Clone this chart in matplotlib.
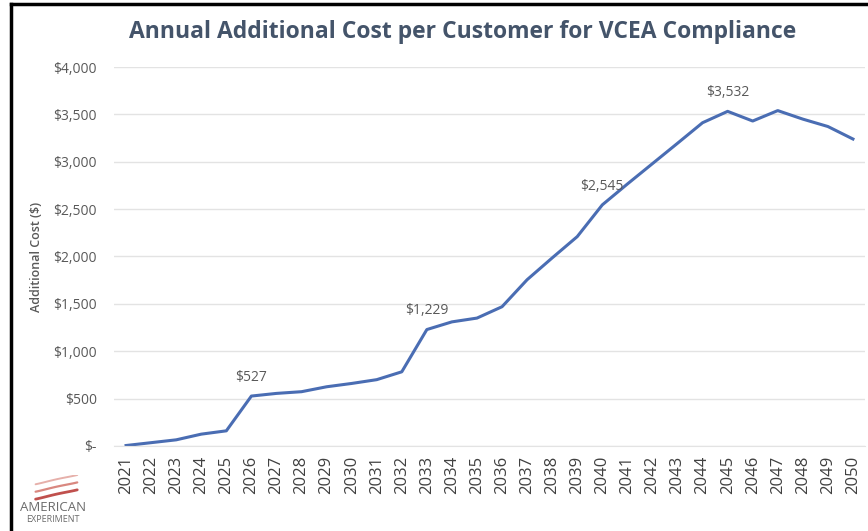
import numpy as np
import matplotlib
matplotlib.use("Agg")
import matplotlib.pyplot as plt
from matplotlib.lines import Line2D

plt.rcParams['font.family'] = ['Open Sans', 'DejaVu Sans']

years = list(range(2021, 2051))
cost = [5, 35, 65, 125, 160, 527, 555, 573, 625, 660, 700, 783, 1229, 1310, 1350,
        1470, 1755, 1985, 2210, 2545, 2765, 2980, 3195, 3412, 3532, 3430, 3540, 3450,
        3372, 3240]
labelled_years = [2026, 2033, 2040, 2045]
y_ticks = [0, 500, 1000, 1500, 2000, 2500, 3000, 3500, 4000]
y_tick_labels = ['$-', '$500', '$1,000', '$1,500', '$2,000', '$2,500', '$3,000',
                 '$3,500', '$4,000']

grey = '#595959'
line_blue = '#4A6DB3'

fig = plt.figure(figsize=(8.68, 5.31), dpi=100)
ax = fig.add_axes([0.1308, 0.1601, 0.8663, 0.7137])

x = np.arange(len(years))
ax.plot(x, cost, color=line_blue, lw=2.2, solid_joinstyle='round')

for yr in labelled_years:
    i = years.index(yr)
    ax.annotate(f'${cost[i]:,}', (x[i], cost[i]), xytext=(0, 8),
                textcoords='offset points', ha='center', va='bottom',
                fontsize=10, color=grey)

ax.set_xlim(-0.5, len(years) - 0.5)
ax.set_ylim(0, 4000)
ax.set_xticks(x)
ax.set_xticklabels([str(y) for y in years], rotation=90, fontsize=12, color='#404040')
ax.set_yticks(y_ticks)
ax.set_yticklabels(y_tick_labels, fontsize=10, color=grey)
ax.tick_params(axis='x', length=0, pad=7)
ax.tick_params(axis='y', length=0, pad=12)
ax.grid(axis='y', color='#E3E3E3', lw=1)
ax.set_axisbelow(True)
for s in ['top', 'right', 'left']:
    ax.spines[s].set_visible(False)
ax.spines['bottom'].set_color('#E3E3E3')

ax.set_ylabel('Additional Cost ($)', fontsize=9, color=grey, fontweight='semibold')
ax.yaxis.set_label_coords(-0.094, 0.5)

fig.text(0.533, 0.94, 'Annual Additional Cost per Customer for VCEA Compliance',
         ha='center', va='center', fontsize=16.5, fontweight='bold', color='#44546A')

# frame lines on top and left edge
fig.add_artist(Line2D([0.0125, 1.0], [0.992, 0.992], color='black', lw=2.5,
                      transform=fig.transFigure))
fig.add_artist(Line2D([0.0125, 0.0125], [0.0, 0.992], color='black', lw=2.5,
                      transform=fig.transFigure))

# logo: swoosh plus wordmark
lx = fig.add_axes([0.035, 0.055, 0.06, 0.05])
lx.set_xlim(0, 1)
lx.set_ylim(0, 1)
lx.axis('off')
t = np.linspace(0, 1, 40)
for k, (c, w) in enumerate([('#C0504D', 2.0), ('#D98880', 1.6), ('#E6B0AA', 1.4)]):
    xs = 0.1 + 0.8 * t
    ys = 0.1 + 0.28 * k + 0.35 * t ** 2 + 0.1 * np.sin(np.pi * t)
    lx.plot(xs, ys, color=c, lw=w, solid_capstyle='round')
fig.text(0.061, 0.045, 'AMERICAN', ha='center', va='center', fontsize=9.5,
         color='#6B6B6B')
fig.text(0.061, 0.022, 'EXPERIMENT', ha='center', va='center', fontsize=6.5,
         color='#6B6B6B')

fig.savefig('out.png', dpi=100)
